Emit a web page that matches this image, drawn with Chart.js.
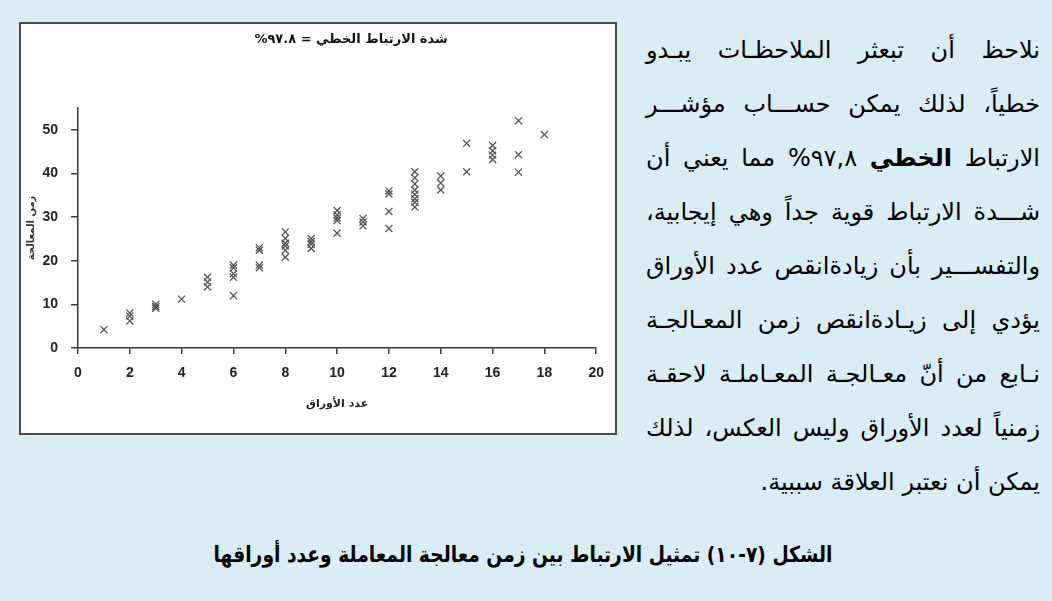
<!DOCTYPE html>
<html lang="ar">
<head>
<meta charset="utf-8">
<script src="https://cdn.jsdelivr.net/npm/chart.js@4.4.1/dist/chart.umd.min.js"></script>
<style>
  html, body { margin: 0; padding: 0; }
  body { width: 1052px; height: 601px; background: #daedf4; position: relative; overflow: hidden; font-family: "DejaVu Sans", sans-serif; }
  #box { position: absolute; left: 19px; top: 22px; width: 598px; height: 413px; box-sizing: border-box; border: 2px solid #4a4a4a; background: #fff; }
  #box canvas { position: absolute; left: 0; top: 0; }
  #para { position: absolute; left: 646px; width: 394px; top: 23px; direction: rtl; font-size: 24px; color: #000; }
  #para div { height: 54px; line-height: 54px; text-align: justify; text-align-last: justify; white-space: nowrap; }
  #para div.last { text-align: right; text-align-last: right; }
  #capwrap { position: absolute; left: 0; width: 1046px; top: 537px; text-align: center; }
  #caption { display: inline-block; direction: rtl; font-weight: bold; font-size: 22px; line-height: 36px; white-space: nowrap; transform: scaleX(0.85); transform-origin: center; }
</style>
</head>
<body>
<div id="box"><canvas id="c" width="594" height="409" dir="rtl"></canvas></div>
<div id="para">
  <div>نلاحظ أن تبعثر الملاحظـات يبـدو</div>
  <div>خطياً، لذلك يمكن حســـاب مؤشـــر</div>
  <div>الارتباط <b>الخطي</b> ٩٧,٨% مما يعني أن</div>
  <div>شـــدة الارتباط قوية جداً وهي إيجابية،</div>
  <div>والتفســـير بأن زيادةانقص عدد الأوراق</div>
  <div>يؤدي إلى زيـادةانقص زمن المعـالجـة</div>
  <div>نـابع من أنّ معـالجـة المعـاملـة لاحقـة</div>
  <div>زمنياً لعدد الأوراق وليس العكس، لذلك</div>
  <div class="last">يمكن أن نعتبر العلاقة سببية.</div>
</div>
<div id="capwrap"><span id="caption">الشكل (٧-١٠) تمثيل الارتباط بين زمن معالجة المعاملة وعدد أوراقها</span></div>
<script>
// Data
const chartTitle = "شدة الارتباط الخطي = ٩٧.٨%";
const xAxisTitle = "عدد الأوراق";
const yAxisTitle = "زمن المعالجة";
const pageCounts = [
  1,
  2, 2, 2,
  3, 3, 3,
  4,
  5, 5, 5,
  6, 6, 6, 6, 6,
  7, 7, 7, 7,
  8, 8, 8, 8, 8, 8,
  9, 9, 9, 9,
  10, 10, 10, 10, 10,
  11, 11, 11,
  12, 12, 12, 12,
  13, 13, 13, 13, 13, 13, 13, 13,
  14, 14, 14,
  15, 15,
  16, 16, 16, 16,
  17, 17, 17,
  18
];
const processingTimes = [
  4.2,
  8.0, 7.3, 6.2,
  10.0, 9.5, 9.1,
  11.2,
  16.2, 15.1, 14.0,
  19.0, 18.4, 17.0, 16.2, 12.0,
  23.0, 22.4, 19.0, 18.4,
  26.6, 25.1, 24.0, 23.4, 22.4, 20.8,
  25.1, 24.4, 23.8, 22.8,
  31.5, 30.5, 29.8, 29.2, 26.3,
  29.7, 28.9, 28.0,
  36.0, 35.3, 31.3, 27.4,
  40.4, 39.0, 37.6, 36.2, 35.2, 34.2, 33.4, 32.3,
  39.4, 37.8, 36.2,
  46.9, 40.4,
  46.4, 45.2, 44.2, 43.2,
  52.1, 44.3, 40.3,
  48.9
];
const xTickValues = [0, 2, 4, 6, 8, 10, 12, 14, 16, 18, 20];
const yTickValues = [0, 10, 20, 30, 40, 50];

const points = pageCounts.map((x, i) => ({ x: x, y: processingTimes[i] }));
const axisColor = '#3a3a3a';
const tickFont = { family: '"Liberation Sans", Arial, sans-serif', size: 14, weight: 'bold' };

// draws the chart title slightly right of the plot centre, as in the reference
const titlePlugin = {
  id: 'sideTitle',
  afterDraw(chart) {
    const { ctx, chartArea } = chart;
    ctx.save();
    ctx.direction = 'rtl';
    ctx.font = 'bold 13px "DejaVu Sans", sans-serif';
    ctx.fillStyle = '#111';
    ctx.textAlign = 'center';
    ctx.textBaseline = 'middle';
    ctx.fillText(chartTitle, (chartArea.left + chartArea.right) / 2 + 14, 16);
    ctx.restore();
  }
};

new Chart(document.getElementById('c'), {
  type: 'scatter',
  data: {
    datasets: [{
      data: points,
      pointStyle: 'crossRot',
      pointRadius: 5,
      pointHoverRadius: 5,
      borderColor: '#555',
      backgroundColor: '#555',
      borderWidth: 1.3
    }]
  },
  options: {
    responsive: false,
    animation: false,
    events: [],
    layout: { padding: { left: 0, right: 18, top: 84, bottom: 0 } },
    plugins: {
      legend: { display: false },
      tooltip: { enabled: false },
      title: { display: false }
    },
    scales: {
      x: {
        type: 'linear',
        min: 0, max: 20,
        afterBuildTicks: s => { s.ticks = xTickValues.map(v => ({ value: v })); },
        afterFit: s => { s.height = 85; },
        ticks: { color: '#222', font: tickFont, padding: 11, maxRotation: 0 },
        grid: { drawOnChartArea: false, drawTicks: true, tickLength: 6, color: axisColor, lineWidth: 1.5 },
        border: { display: true, color: axisColor, width: 1.5 },
        title: { display: true, text: xAxisTitle, color: '#222', font: { family: '"DejaVu Sans", sans-serif', size: 11, weight: 'bold' }, padding: { top: 4, bottom: 22 } }
      },
      y: {
        type: 'linear',
        min: 0, max: 55,
        afterBuildTicks: s => { s.ticks = yTickValues.map(v => ({ value: v })); },
        afterFit: s => { s.width = 57; },
        ticks: { color: '#222', font: tickFont, padding: 13 },
        grid: { drawOnChartArea: false, drawTicks: true, tickLength: 7, color: axisColor, lineWidth: 1.5 },
        border: { display: true, color: axisColor, width: 1.5 },
        title: { display: true, text: yAxisTitle, color: '#333', font: { family: '"DejaVu Sans", sans-serif', size: 10, weight: 'bold' }, padding: { top: 4, bottom: 4 } }
      }
    }
  },
  plugins: [titlePlugin]
});
</script>
</body>
</html>
